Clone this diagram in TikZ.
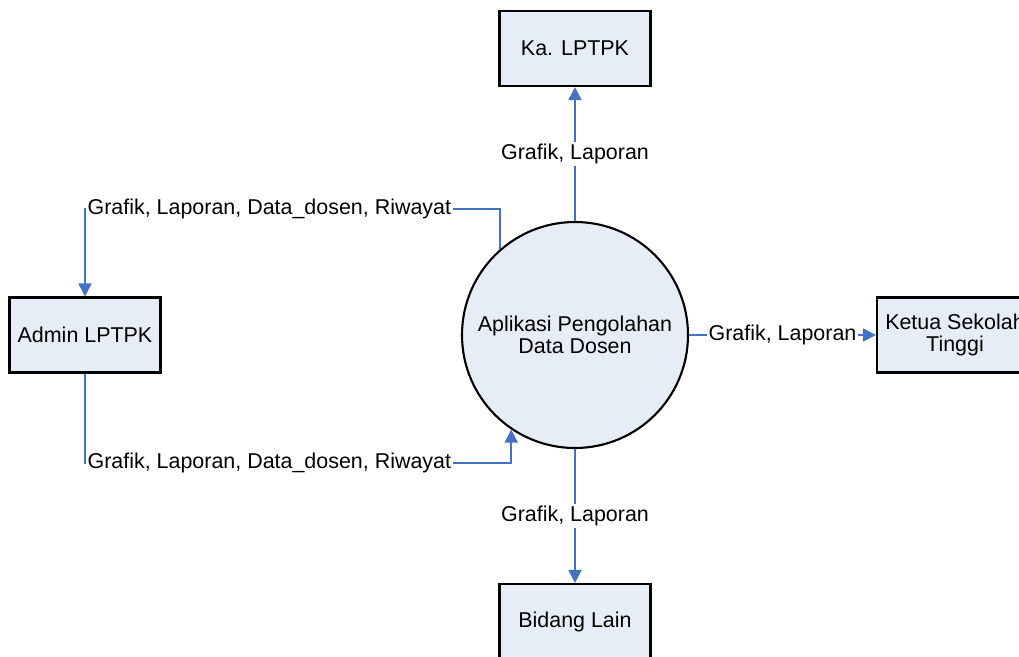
\documentclass[tikz,border=0pt]{standalone}
\usepackage{fontspec}
\setmainfont{Liberation Sans}
\usetikzlibrary{arrows.meta, positioning}
\definecolor{garis}{RGB}{68,114,196}
\definecolor{isi}{RGB}{231,237,247}

\begin{document}
\begin{tikzpicture}[node distance=5.73cm, on grid, font=\fontsize{12.2}{12.6}\selectfont]
\tikzset{entitas/.style={draw, line width=1.2pt, fill=isi, minimum width=3.02cm, minimum height=1.5cm, align=center}}
\tikzset{proses/.style={circle, draw, line width=1.2pt, fill=isi, minimum size=4.52cm, inner sep=0pt, align=center}}
\tikzset{alir/.style={-{Triangle[length=0.26cm,width=0.26cm]}, draw=garis, line width=1pt}}
\tikzset{ket/.style={fill=white, inner sep=1pt}}

\useasboundingbox (-11.5,-6.42) rectangle (8.88,6.7);

\node[proses] (aplikasi) {Aplikasi Pengolahan\\Data Dosen};
\node[entitas] (ka) [above=of aplikasi] {Ka. LPTPK};
\node[entitas] (bidang) [below=of aplikasi] {Bidang Lain};
\node[entitas] (admin) [left=9.8cm of aplikasi] {Admin LPTPK};
\node[entitas, minimum width=3.12cm] (ketua) [right=7.6cm of aplikasi] {Ketua Sekolah\\Tinggi};

\coordinate (atas) at (admin.north |- 0,2.52);
\coordinate (bawah) at (aplikasi.236.7 |- 0,-2.56);

\draw[alir] (aplikasi) -- node[ket] {Grafik, Laporan} (ka);
\draw[alir] (aplikasi) -- node[ket] {Grafik, Laporan} (ketua);
\draw[alir] (aplikasi) -- node[ket] {Grafik, Laporan} (bidang);
\draw[alir] (aplikasi.131.6) |- (atas) node[ket, anchor=west] {Grafik, Laporan, Data\_dosen, Riwayat} -- (admin.north);
\draw[alir] (admin.south) |- node[ket, pos=0.5, anchor=west] {Grafik, Laporan, Data\_dosen, Riwayat} (bawah) -- (aplikasi.236.7);

\end{tikzpicture}
\end{document}
